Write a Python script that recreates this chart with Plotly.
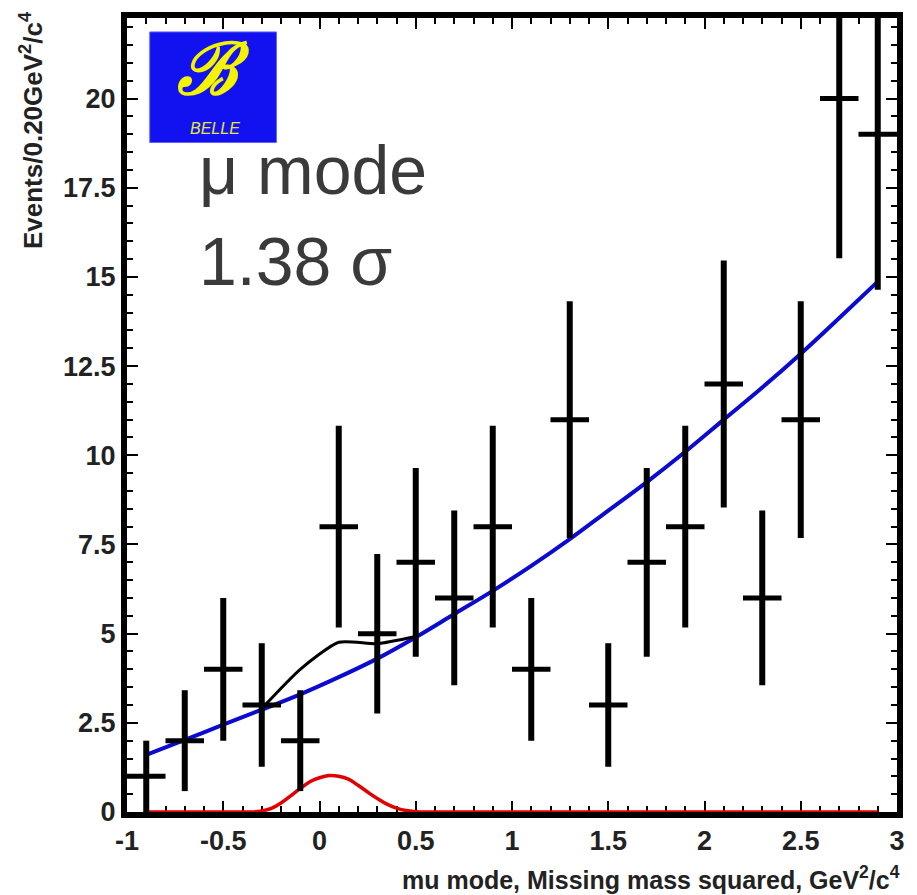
import numpy as np
import plotly.graph_objects as go

# ---- data ----
bin_centers = [-0.9, -0.7, -0.5, -0.3, -0.1, 0.1, 0.3, 0.5, 0.7, 0.9,
               1.1, 1.3, 1.5, 1.7, 1.9, 2.1, 2.3, 2.5, 2.7, 2.9]
counts = [1, 2, 4, 3, 2, 8, 5, 7, 6, 8, 4, 11, 3, 7, 8, 12, 6, 11, 20, 19]
bin_half_width = 0.1

bkg_x = [-0.9, -0.7, -0.5, -0.3, -0.1, 0.1, 0.3, 0.5, 0.7, 0.9,
         1.1, 1.3, 1.5, 1.7, 1.9, 2.1, 2.3, 2.5, 2.7, 2.9]
bkg_y = [1.6, 2.02, 2.45, 2.87, 3.3, 3.78, 4.3, 4.9, 5.55, 6.2,
         6.9, 7.65, 8.45, 9.25, 10.1, 11.0, 11.9, 12.85, 13.85, 14.87]

sig_x = [-0.9, -0.4, -0.35, -0.3, -0.25, -0.2, -0.15, -0.1, -0.05, 0.0, 0.05, 0.1,
         0.15, 0.2, 0.25, 0.3, 0.35, 0.4, 0.45, 0.5, 0.55, 2.9]
sig_y = [0.0, 0.0, 0.0, 0.03, 0.1, 0.25, 0.45, 0.66, 0.85, 0.96, 1.02, 1.0,
         0.92, 0.75, 0.56, 0.38, 0.22, 0.11, 0.04, 0.01, 0.0, 0.0]

tot_x = [-0.3, -0.1, 0.1, 0.3, 0.5]
tot_y = [2.9, 4.0, 4.76, 4.72, 4.92]

x_ticks = [-1, -0.5, 0, 0.5, 1, 1.5, 2, 2.5, 3]
x_ticklabels = ["-1", "-0.5", "0", "0.5", "1", "1.5", "2", "2.5", "3"]
y_ticks = [0, 2.5, 5, 7.5, 10, 12.5, 15, 17.5, 20]
y_ticklabels = ["0", "2.5", "5", "7.5", "10", "12.5", "15", "17.5", "20"]

errs = [float(np.sqrt(c)) for c in counts]

fig = go.Figure()
fig.add_trace(go.Scatter(x=bkg_x, y=bkg_y, mode="lines", line=dict(color="#0a0ad0", width=4, shape="spline"),
                         hoverinfo="skip"))
fig.add_trace(go.Scatter(x=sig_x, y=sig_y, mode="lines", line=dict(color="#e00000", width=3.5, shape="spline"),
                         hoverinfo="skip", cliponaxis=False))
fig.add_trace(go.Scatter(x=tot_x, y=tot_y, mode="lines", line=dict(color="black", width=3, shape="spline", smoothing=0.6),
                         hoverinfo="skip"))
fig.add_trace(go.Scatter(
    x=bin_centers, y=counts, mode="markers",
    marker=dict(size=4, color="black"),
    error_y=dict(type="data", array=errs, color="black", thickness=6, width=0),
    error_x=dict(type="constant", value=bin_half_width, color="black", thickness=5, width=0),
))

tick_font = dict(family="Liberation Sans, Arial", size=27, color="#222", weight="bold")
axis_common = dict(
    showline=True, linecolor="black", linewidth=6, mirror="allticks",
    ticks="inside", ticklen=11, tickwidth=2, tickcolor="black",
    showgrid=False, zeroline=False, tickfont=tick_font,
)
fig.update_xaxes(range=[-1, 3], tickvals=x_ticks, ticktext=x_ticklabels,
                 minor=dict(ticks="inside", dtick=0.1, ticklen=6, tickwidth=1.5, tickcolor="black"),
                 layer="below traces", **axis_common)
fig.update_yaxes(range=[0, 22.26], tickvals=y_ticks, ticktext=y_ticklabels,
                 minor=dict(ticks="inside", dtick=0.5, ticklen=6, tickwidth=1.5, tickcolor="black"),
                 layer="below traces", **axis_common)

pw = 778.0
ph = 797.0
def px2paper_x(px):
    return (px - 127) / pw
def px2paper_y(py):
    return 1 - (py - 15) / ph

# Belle logo
fig.add_shape(type="rect", xref="paper", yref="paper",
              x0=px2paper_x(150), x1=px2paper_x(278), y0=px2paper_y(140), y1=px2paper_y(29),
              fillcolor="#1212f0", line=dict(color="#6060ff", width=1), layer="above")
annotations = [
    dict(text="<b><i>ℬ</i></b>", x=px2paper_x(214), y=px2paper_y(66), xanchor="center", yanchor="middle",
         font=dict(family="DejaVu Serif", size=72, color="#f4f400")),
    dict(text="<i>BELLE</i>", x=px2paper_x(216), y=px2paper_y(126), xanchor="center", yanchor="middle",
         font=dict(family="Liberation Sans", size=16, color="#e8e830")),
    dict(text="μ mode", x=px2paper_x(198), y=px2paper_y(168), xanchor="left", yanchor="middle",
         font=dict(family="Liberation Sans, Arial", size=68, color="#3a3a3a")),
    dict(text="1.38 σ", x=px2paper_x(198), y=px2paper_y(259), xanchor="left", yanchor="middle",
         font=dict(family="Liberation Sans, Arial", size=68, color="#3a3a3a")),
    dict(text="Events/0.20GeV<sup>2</sup>/c<sup>4</sup>", textangle=-90,
         x=px2paper_x(30), y=px2paper_y(6), xanchor="center", yanchor="top",
         font=dict(family="Liberation Sans, Arial", size=26, color="#222", weight="bold")),
    dict(text="mu mode, Missing mass squared, GeV<sup>2</sup>/c<sup>4</sup>",
         x=px2paper_x(910), y=px2paper_y(878), xanchor="right", yanchor="middle",
         font=dict(family="Liberation Sans, Arial", size=25, color="#222", weight="bold")),
]
for a in annotations:
    a.update(xref="paper", yref="paper", showarrow=False)
fig.update_layout(
    annotations=annotations,
    width=917, height=895,
    margin=dict(l=127, r=12, t=15, b=83),
    plot_bgcolor="white", paper_bgcolor="white",
    showlegend=False,
)
fig.write_html("out.html")
